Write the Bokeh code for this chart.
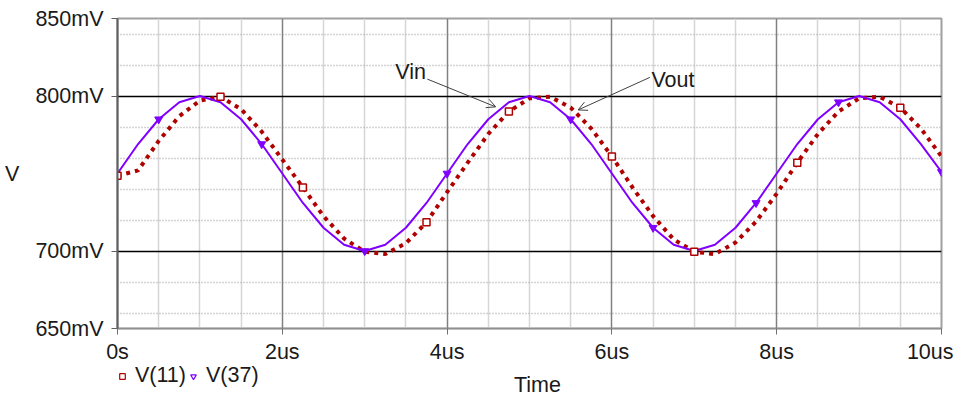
from bokeh.plotting import figure
from bokeh.layouts import column
from bokeh.models import (ColumnDataSource, FixedTicker, Grid, Label, Arrow, OpenHead,
                          Legend, LegendItem, CDSView, IndexFilter)
from bokeh.embed import file_html
from bokeh.resources import INLINE

# ---- data (time in us, voltage in mV) ----
time_us = [0.0, 0.25, 0.5, 0.75, 1.0, 1.25, 1.5, 1.75, 2.0, 2.25, 2.5, 2.75,
           3.0, 3.25, 3.5, 3.75, 4.0, 4.25, 4.5, 4.75, 5.0, 5.25, 5.5, 5.75,
           6.0, 6.25, 6.5, 6.75, 7.0, 7.25, 7.5, 7.75, 8.0, 8.25, 8.5, 8.75,
           9.0, 9.25, 9.5, 9.75, 10.0]
v37_mV = [750, 769, 785, 796, 800, 796, 785, 769, 750, 731, 715, 704,
          700, 704, 715, 731, 750, 769, 785, 796, 800, 796, 785, 769,
          750, 731, 715, 704, 700, 704, 715, 731, 750, 769, 785, 796,
          800, 796, 785, 769, 751]
v11_mV = [748.5, 752, 771, 787, 797, 799.5, 791.5, 777, 759, 741, 722.5, 708,
          699.5, 698, 705, 718.5, 738, 757, 775.5, 790, 798.5, 799.5, 792.5, 779,
          761, 741, 722.5, 707.5, 699.5, 698, 705.5, 719, 737, 757, 775.5, 790,
          798.5, 799.5, 792.5, 779, 761]
v11_marker_idx = [0, 5, 9, 15, 19, 24, 28, 33, 38]
v37_marker_idx = [2, 7, 12, 16, 22, 26, 31, 35, 40]
series_names = ["V(11)", "V(37)"]

x_ticks = [0, 2, 4, 6, 8, 10]
x_tick_labels = ["0s", "2us", "4us", "6us", "8us", "10us"]
y_ticks = [650, 700, 800, 850]
y_tick_labels = ["650mV", "700mV", "800mV", "850mV"]
x_major_grid = [2, 4, 6, 8]
x_minor_grid = [0.5, 1, 1.5, 2.5, 3, 3.5, 4.5, 5, 5.5, 6.5, 7, 7.5, 8.5, 9, 9.5]
y_major_grid = [700, 800]
y_minor_grid = [660, 680, 720, 740, 760, 780, 820, 840]

FONT = "Liberation Sans"
FS = "21.5px"
RED = "#b00000"
PURPLE = "#8000ff"
TXT = "#1a1a1a"
NBSP = "\u00a0"

src = ColumnDataSource(dict(t=time_us, v11=v11_mV, v37=v37_mV))
view11 = CDSView(filter=IndexFilter(v11_marker_idx))
view37 = CDSView(filter=IndexFilter(v37_marker_idx))

p = figure(width=959, height=366, x_range=(0, 10), y_range=(650, 850),
           output_backend="svg", toolbar_location=None,
           min_border_left=117, min_border_right=18,
           min_border_top=18, min_border_bottom=36)
p.background_fill_color = "white"
p.border_fill_color = "white"
p.outline_line_color = "#a0a0a0"
p.outline_line_width = 2

# grids
p.xgrid.ticker = FixedTicker(ticks=x_major_grid)
p.xgrid.grid_line_color = "#808080"
p.xgrid.grid_line_width = 1.5
p.ygrid.ticker = FixedTicker(ticks=y_major_grid)
p.ygrid.grid_line_color = "black"
p.ygrid.grid_line_width = 1.3
gx_minor = Grid(dimension=0, ticker=FixedTicker(ticks=x_minor_grid),
                grid_line_color="#d6d6d6", grid_line_width=1.5)
gy_minor = Grid(dimension=1, ticker=FixedTicker(ticks=y_minor_grid),
                grid_line_color="#a8a8a8", grid_line_width=1.5, grid_line_dash="1 2")
p.renderers.insert(0, gy_minor)
p.renderers.insert(0, gx_minor)

# axes
xa = p.xaxis[0]
xa.ticker = FixedTicker(ticks=x_ticks)
overrides = {t: lab for t, lab in zip(x_ticks, x_tick_labels)}
overrides[x_ticks[-1]] = x_tick_labels[-1] + NBSP   # keep last label inside the page
xa.major_label_overrides = overrides
ya = p.yaxis[0]
ya.ticker = FixedTicker(ticks=y_ticks)
ya.major_label_overrides = {t: lab for t, lab in zip(y_ticks, y_tick_labels)}
for ax in (xa, ya):
    ax.major_tick_out = 6
    ax.major_tick_in = 0
    ax.minor_tick_out = 0
    ax.minor_tick_in = 0
    ax.major_label_text_font = FONT
    ax.major_label_text_font_size = FS
    ax.major_label_text_color = TXT
xa.major_label_standoff = 5
ya.major_label_standoff = 8
xa.axis_line_color = "#909090"
xa.axis_line_width = 1.5
xa.major_tick_line_color = "#707070"
ya.axis_line_color = "#606060"
ya.axis_line_width = 2
ya.major_tick_line_color = "#606060"
ya.axis_label = "V"
ya.axis_label_orientation = "horizontal"
ya.axis_label_text_font = FONT
ya.axis_label_text_font_size = FS
ya.axis_label_text_font_style = "normal"
ya.axis_label_text_color = TXT
ya.axis_label_standoff = 13

# curves
r11 = p.line("t", "v11", source=src, line_color=RED, line_width=4, line_dash="4 5")
r37 = p.line("t", "v37", source=src, line_color=PURPLE, line_width=2)
r11m = p.scatter("t", "v11", source=src, view=view11,
                 marker="square", size=7, line_color=RED, fill_color="white", line_width=1.5)
r37m = p.scatter("t", "v37", source=src, view=view37,
                 marker="inverted_triangle", size=8, line_color=PURPLE, fill_color=PURPLE)

# annotations
p.add_layout(Label(x=3.37, y=815.7, text="Vin", text_font=FONT, text_font_size=FS,
                   text_color=TXT, text_baseline="middle"))
p.add_layout(Label(x=6.48, y=810.3, text="Vout", text_font=FONT, text_font_size=FS,
                   text_color=TXT, text_baseline="middle"))
p.add_layout(Arrow(x_start=3.76, y_start=810.9, x_end=4.59, y_end=793,
                   line_color="#404040", line_width=1,
                   end=OpenHead(size=9, line_color="#404040", line_width=1)))
p.add_layout(Arrow(x_start=6.46, y_start=812, x_end=5.59, y_end=791,
                   line_color="#404040", line_width=1,
                   end=OpenHead(size=9, line_color="#404040", line_width=1)))

# ---- strip under the plot (transparent, slightly overlapping): legend and x-axis title ----
p2 = figure(width=959, height=38, output_backend="svg", toolbar_location=None,
            x_axis_type=None, y_axis_type=None,
            min_border_left=117, min_border_right=18, min_border_top=0, min_border_bottom=0)
p2.margin = (-8, 0, 0, 0)
p2.outline_line_color = None
p2.background_fill_alpha = 0
p2.border_fill_alpha = 0
k11 = p2.scatter("t", "v11", source=src, view=CDSView(filter=IndexFilter(v11_marker_idx)),
                 marker="square", size=6, line_color=RED, fill_color="white",
                 line_width=1.2, visible=False)
k37 = p2.scatter("t", "v37", source=src, view=CDSView(filter=IndexFilter(v37_marker_idx)),
                 marker="inverted_triangle", size=6, line_color=PURPLE,
                 fill_color="white", line_width=1.2, visible=False)
legend = Legend(items=[LegendItem(label=series_names[0], renderers=[k11]),
                       LegendItem(label=series_names[1], renderers=[k37])],
                location=(-2, 8), orientation="horizontal",
                glyph_width=14, glyph_height=14, label_standoff=6, spacing=0,
                padding=0, margin=0, border_line_alpha=0, background_fill_alpha=0,
                inactive_fill_alpha=0,
                label_text_font=FONT, label_text_font_size=FS, label_text_color=TXT)
p2.add_layout(legend, "center")
p2.add_layout(Label(x=420, y=12, x_units="screen", y_units="screen", text="Time",
                    text_font=FONT, text_font_size=FS, text_color=TXT,
                    text_align="center", text_baseline="middle"))

layout = column(p, p2, spacing=0)
open("out.html", "w").write(file_html(layout, INLINE))
